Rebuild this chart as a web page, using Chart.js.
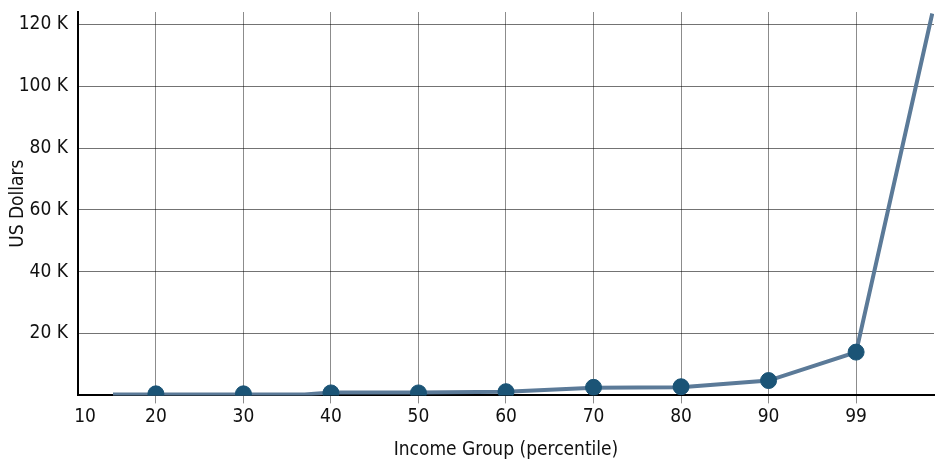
<!DOCTYPE html>
<html>
<head>
<meta charset="utf-8">
<script src="https://cdn.jsdelivr.net/npm/chart.js@4"></script>
<style>
  html, body { margin: 0; padding: 0; background: #fff; }
  #wrap { width: 943px; height: 461px; }
</style>
</head>
<body>
<div id="wrap"><canvas id="myChart"></canvas></div>
<script>
// tick labels on the x axis, one per category slot (slot 0 = "10")
const percentiles = ['10', '20', '30', '40', '50', '60', '70', '80', '90', '99'];

// decile markers (slots 1..9 = 20..99)
const markerSlots = [1, 2, 3, 4, 5, 6, 7, 8, 9];
const markerValues = [500, 500, 800, 800, 1200, 2600, 2800, 4800, 14000];

// the continuous line in slot units
const lineSlots = [0.51, 1, 2, 2.7, 3, 4, 5, 6, 7, 8, 9, 9.87];
const lineValues = [300, 300, 300, 300, 900, 900, 1200, 2500, 2600, 4800, 14000, 123500];

const yTicks = [0, 20000, 40000, 60000, 80000, 100000, 120000];

// weight slot carries the font-stretch keyword into ctx.font
const txtFont = { family: "'DejaVu Sans', sans-serif", size: 19, weight: 'condensed' };

const toPoints = (xs, ys) => xs.map((x, i) => ({ x: x, y: ys[i] }));

const ctx = document.getElementById('myChart');

new Chart(ctx, {
  type: 'scatter',
  data: {
    datasets: [{
      data: toPoints(markerSlots, markerValues),
      backgroundColor: '#1b5476',
      borderColor: '#1b5476',
      pointRadius: 8,
      pointHoverRadius: 8,
      showLine: false,
      order: 0
    }, {
      data: toPoints(lineSlots, lineValues),
      borderColor: '#5b7a98',
      borderWidth: 4,
      pointRadius: 0,
      showLine: true,
      order: 1
    }]
  },
  options: {
    responsive: true,
    maintainAspectRatio: false,
    animation: false,
    layout: { padding: { top: 12, right: 7, left: 0, bottom: 0 } },
    plugins: { legend: { display: false }, tooltip: { enabled: false } },
    scales: {
      x: {
        type: 'linear',
        min: 0.11,
        max: 9.89,
        afterBuildTicks: (scale) => {
          // "10" sits just inside the left edge, the rest on their slots
          scale.ticks = percentiles.map((p, i) => ({ value: i === 0 ? 0.19 : i }));
        },
        afterFit: (scale) => { scale.paddingLeft = 0; scale.paddingRight = 0; },
        ticks: {
          color: '#111',
          font: txtFont,
          padding: 2,
          maxRotation: 0,
          autoSkip: false,
          callback: (value, index) => percentiles[index]
        },
        grid: {
          color: (c) => c.index === 0 ? 'rgba(0,0,0,0)' : 'rgba(0,0,0,0.45)',
          lineWidth: 1,
          drawTicks: true,
          tickLength: 8
        },
        border: { color: '#000', width: 2 },
        title: {
          display: true,
          text: 'Income Group (percentile)',
          color: '#111',
          font: txtFont,
          padding: { top: 8, bottom: 0 }
        }
      },
      y: {
        min: 0,
        max: 124000,
        afterBuildTicks: (scale) => {
          scale.ticks = yTicks.map(v => ({ value: v }));
        },
        afterFit: (scale) => { scale.width = 78; scale.paddingTop = 0; },
        ticks: {
          color: '#111',
          font: txtFont,
          padding: 10,
          callback: (value) => value === 0 ? '' : (value / 1000) + ' K'
        },
        grid: {
          color: 'rgba(0,0,0,0.55)',
          lineWidth: 1,
          drawTicks: false
        },
        border: { color: '#000', width: 2 },
        title: {
          display: true,
          text: 'US Dollars',
          color: '#111',
          font: txtFont,
          padding: { top: 7, bottom: 0 }
        }
      }
    }
  }
});
</script>
</body>
</html>
